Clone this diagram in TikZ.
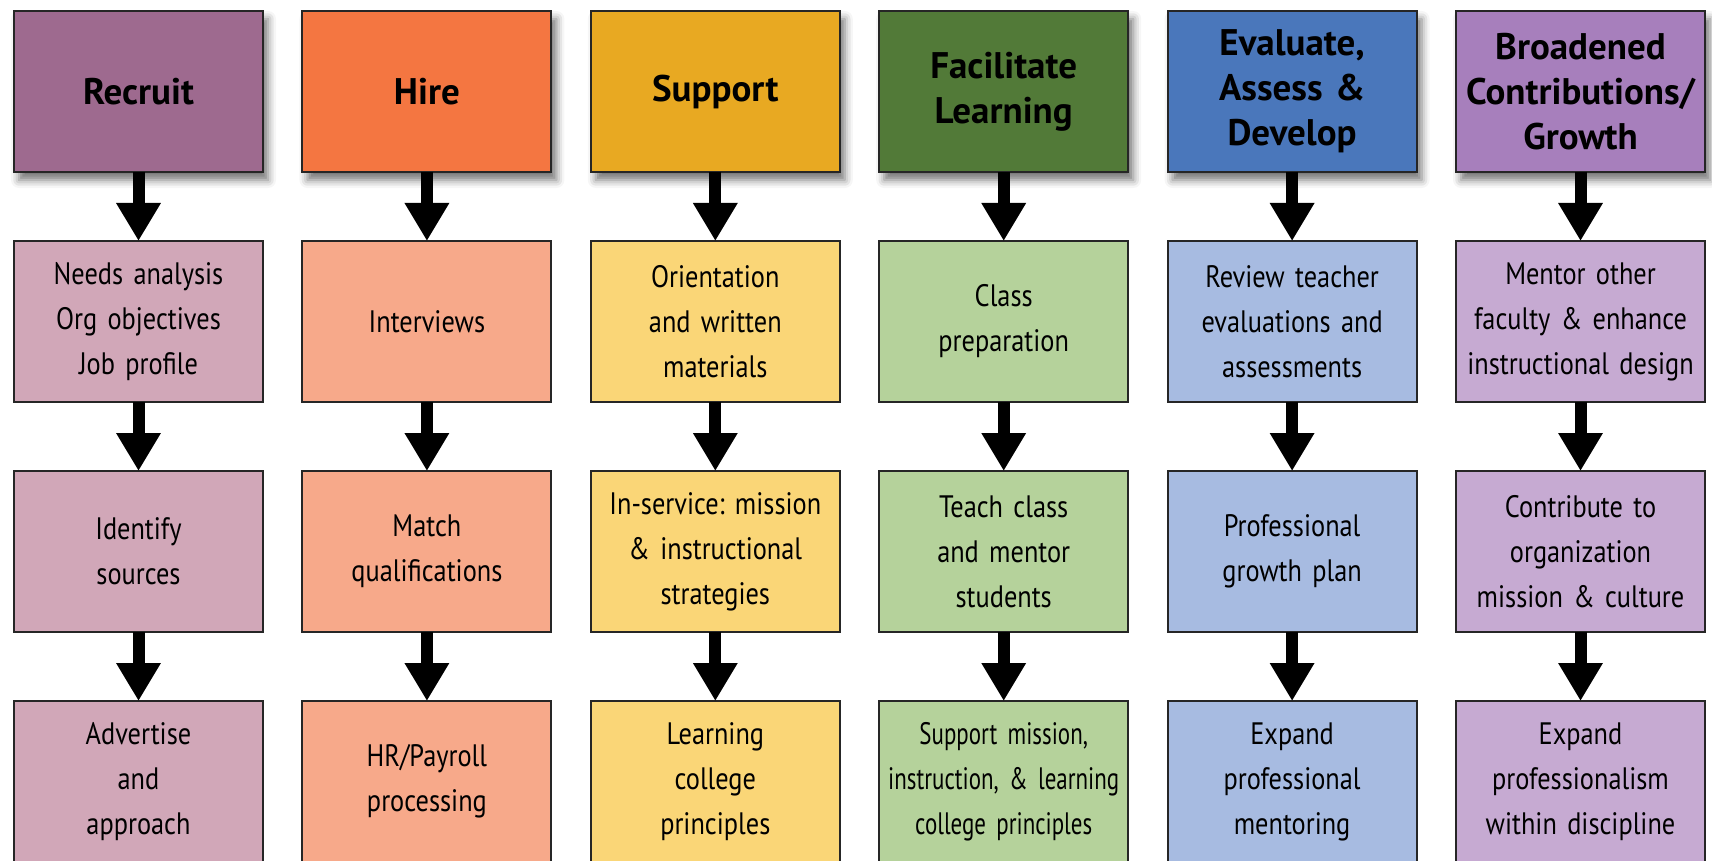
\documentclass[tikz,border=0pt]{standalone}
\usepackage{fontspec}
\usepackage{tikz}
\usetikzlibrary{positioning,arrows.meta,shadows.blur}

\newfontfamily\headfont{PT Sans}
\newfontfamily\itemfont[FakeStretch=0.85]{PT Sans}
\newfontfamily\tightfont[FakeStretch=0.74]{PT Sans}
\frenchspacing

\definecolor{recH}{HTML}{9E6A8F}
\definecolor{recL}{HTML}{D1A7B8}
\definecolor{hirH}{HTML}{F47641}
\definecolor{hirL}{HTML}{F7A98A}
\definecolor{supH}{HTML}{E8A922}
\definecolor{supL}{HTML}{FAD677}
\definecolor{facH}{HTML}{527A38}
\definecolor{facL}{HTML}{B5D29B}
\definecolor{evaH}{HTML}{4A77BB}
\definecolor{evaL}{HTML}{A7BBE1}
\definecolor{broH}{HTML}{A77FBC}
\definecolor{broL}{HTML}{C6AAD2}

\begin{document}
\begin{tikzpicture}[node distance=34.5pt and 19.7pt,
  box/.style={rectangle,draw=black!85,line width=1pt,outer sep=0pt,minimum width=124.5pt,
    minimum height=80.5pt,inner sep=1pt,align=center,text width=122pt},
  head/.style={box,font=\headfont\bfseries\fontsize{18.5}{22.5}\selectfont,
    blur shadow={shadow xshift=2.5pt,shadow yshift=-4pt,shadow blur radius=4pt,shadow opacity=55}},
  item/.style={box,font=\itemfont\fontsize{15.5}{22.5}\selectfont},
  flow/.style={-{Triangle[width=21pt,length=19pt]},line width=6pt}]

  \useasboundingbox (0,0) rectangle (856pt,-430.5pt);

  % headers
  \node[head,fill=recH] (rec) at (69.25pt,-45.75pt) {Recruit};
  \node[head,fill=hirH] (hir) [right=of rec] {Hire};
  \node[head,fill=supH] (sup) [right=of hir] {Support};
  \node[head,fill=facH] (fac) [right=of sup] {Facilitate\\Learning};
  \node[head,fill=evaH] (eva) [right=of fac] {Evaluate,\\Assess \&\\Develop};
  \node[head,fill=broH] (bro) [right=of eva] {Broadened\\Contributions/\\Growth};

  % recruit
  \node[item,fill=recL] (rec1) [below=of rec] {Needs analysis\\Org objectives\\Job profile};
  \node[item,fill=recL] (rec2) [below=of rec1] {Identify\\sources};
  \node[item,fill=recL] (rec3) [below=of rec2] {Advertise\\and\\approach};

  % hire
  \node[item,fill=hirL] (hir1) [below=of hir] {Interviews};
  \node[item,fill=hirL] (hir2) [below=of hir1] {Match\\qualifications};
  \node[item,fill=hirL] (hir3) [below=of hir2] {HR/Payroll\\processing};

  % support
  \node[item,fill=supL] (sup1) [below=of sup] {Orientation\\and written\\materials};
  \node[item,fill=supL] (sup2) [below=of sup1] {In-service: mission\\\& instructional\\strategies};
  \node[item,fill=supL] (sup3) [below=of sup2] {Learning\\college\\principles};

  % facilitate learning
  \node[item,fill=facL] (fac1) [below=of fac] {Class\\preparation};
  \node[item,fill=facL] (fac2) [below=of fac1] {Teach class\\and mentor\\students};
  \node[item,fill=facL,font=\tightfont\fontsize{15.5}{22.5}\selectfont] (fac3) [below=of fac2]
    {Support mission,\\instruction, \& learning\\college principles};

  % evaluate
  \node[item,fill=evaL] (eva1) [below=of eva] {Review teacher\\evaluations and\\assessments};
  \node[item,fill=evaL] (eva2) [below=of eva1] {Professional\\growth plan};
  \node[item,fill=evaL] (eva3) [below=of eva2] {Expand\\professional\\mentoring};

  % broadened
  \node[item,fill=broL] (bro1) [below=of bro] {Mentor other\\faculty \& enhance\\instructional design};
  \node[item,fill=broL] (bro2) [below=of bro1] {Contribute to\\organization\\mission \& culture};
  \node[item,fill=broL] (bro3) [below=of bro2] {Expand\\professionalism\\within discipline};

  \path[flow]
    (rec) edge (rec1) (rec1) edge (rec2) (rec2) edge (rec3)
    (hir) edge (hir1) (hir1) edge (hir2) (hir2) edge (hir3)
    (sup) edge (sup1) (sup1) edge (sup2) (sup2) edge (sup3)
    (fac) edge (fac1) (fac1) edge (fac2) (fac2) edge (fac3)
    (eva) edge (eva1) (eva1) edge (eva2) (eva2) edge (eva3)
    (bro) edge (bro1) (bro1) edge (bro2) (bro2) edge (bro3);
\end{tikzpicture}
\end{document}
